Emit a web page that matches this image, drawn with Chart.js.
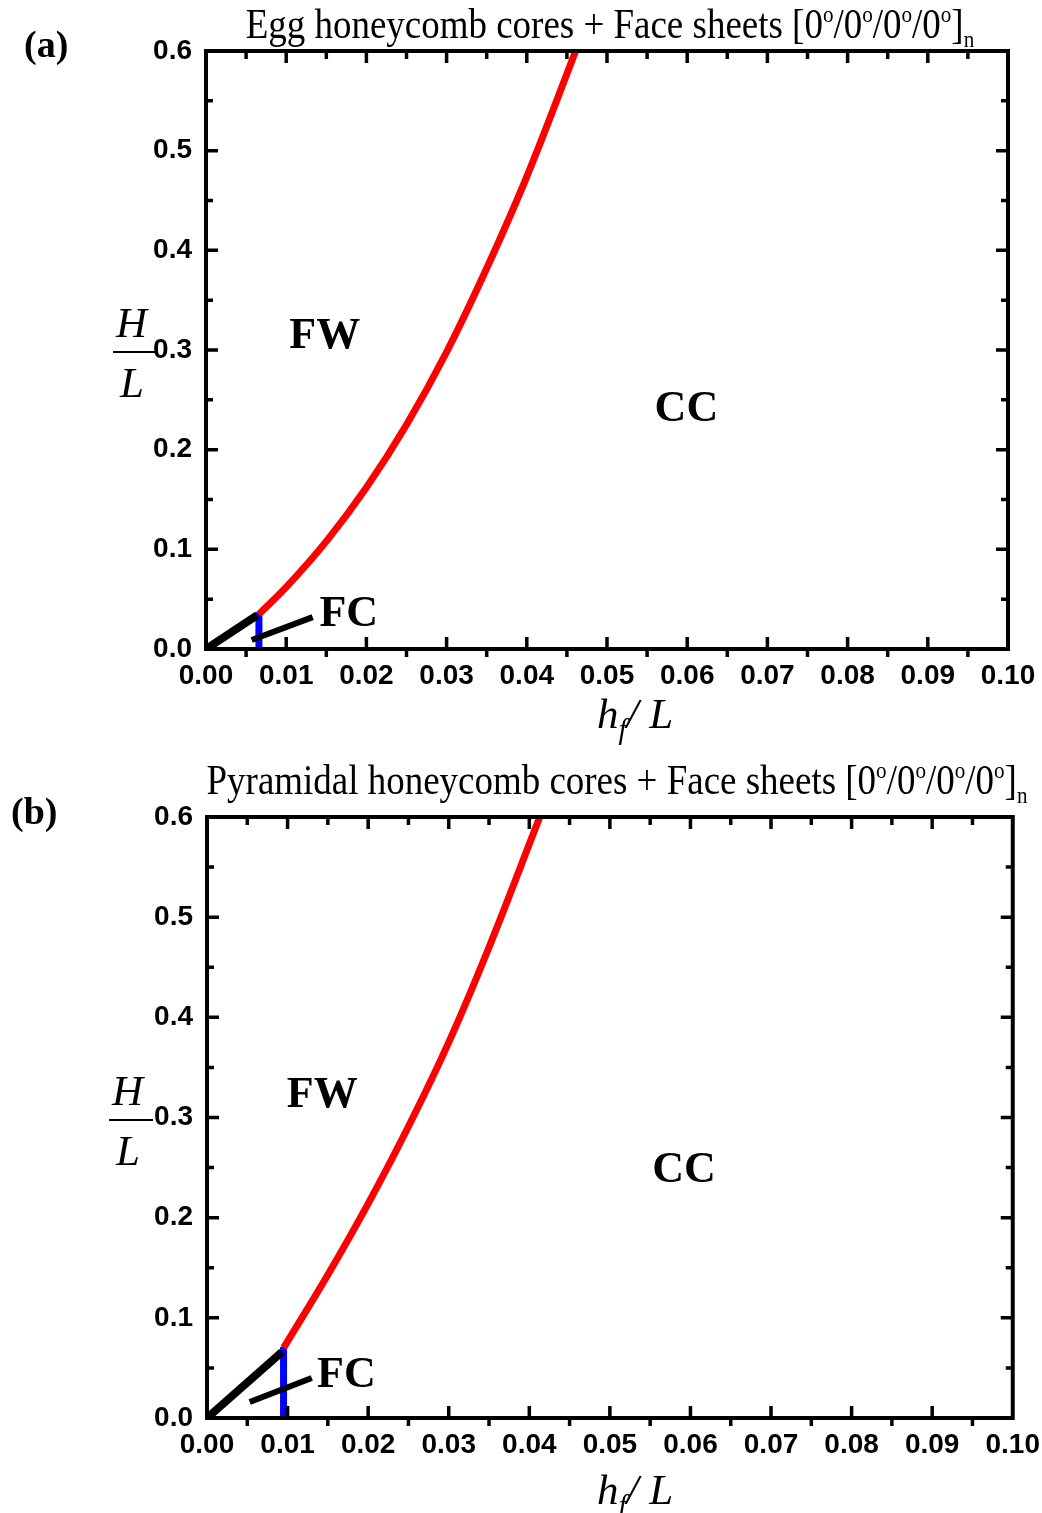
<!DOCTYPE html>
<html>
<head>
<meta charset="utf-8">
<script src="https://cdn.jsdelivr.net/npm/chart.js@4.4.1/dist/chart.umd.min.js"></script>
<style>
  html, body { margin: 0; padding: 0; background: #fff; }
  body { width: 1042px; height: 1513px; position: relative; overflow: hidden; }
  canvas { position: absolute; left: 0; }
  #cA { top: 0; }
  #cB { top: 740px; }
  .txt { position: absolute; font-family: "Liberation Serif", "Times New Roman", serif; color: #000; white-space: nowrap; }
  .panel { font-weight: bold; font-size: 38px; }
  .title { font-size: 42px; transform: translateX(-50%) scaleX(0.88); transform-origin: center; }
  .title sup { font-size: 24px; vertical-align: 0; position: relative; top: -16px; }
  .title sub { font-size: 24px; vertical-align: 0; position: relative; top: 9px; }
  .ital { font-style: italic; font-size: 43px; }
  .bar { position: absolute; height: 2px; background: #000; }
</style>
</head>
<body>
<canvas id="cA" width="1042" height="740"></canvas>
<canvas id="cB" width="1042" height="773"></canvas>

<div class="txt panel" style="left:24px; top:22px;">(a)</div>
<div class="txt title" style="left:610px; top:0px;">Egg honeycomb cores + Face sheets [0<sup>o</sup>/0<sup>o</sup>/0<sup>o</sup>/0<sup>o</sup>]<sub>n</sub></div>
<div class="txt ital" style="left:116px; top:298px;">H</div>
<div class="bar" style="left:113px; top:351px; width:44px;"></div>
<div class="txt ital" style="left:120px; top:358px;">L</div>
<div class="txt ital" style="left:597px; top:689px;">h<span style="font-size:29px; position:relative; top:11px;">f</span>/ L</div>

<div class="txt panel" style="left:11px; top:789px;">(b)</div>
<div class="txt title" style="left:617px; top:756px;">Pyramidal honeycomb cores + Face sheets [0<sup>o</sup>/0<sup>o</sup>/0<sup>o</sup>/0<sup>o</sup>]<sub>n</sub></div>
<div class="txt ital" style="left:112px; top:1066px;">H</div>
<div class="bar" style="left:109px; top:1119px; width:44px;"></div>
<div class="txt ital" style="left:116px; top:1126px;">L</div>
<div class="txt ital" style="left:597px; top:1465px;">h<span style="font-size:29px; position:relative; top:11px;">f</span>/ L</div>

<script>
// ── Data ───────────────────────────────────
const xTickLabels = ['0.00', '0.01', '0.02', '0.03', '0.04', '0.05', '0.06', '0.07', '0.08', '0.09', '0.10'];
const yTickLabels = ['0.0', '0.1', '0.2', '0.3', '0.4', '0.5', '0.6'];

// (a) Egg honeycomb
const redAX   = [0.0066, 0.010, 0.015, 0.020, 0.025, 0.030, 0.035, 0.040, 0.0461];
const redAY   = [0.035,  0.062, 0.108, 0.162, 0.225, 0.298, 0.382, 0.474, 0.600];
const blueAX  = [0.0066, 0.0066];
const blueAY  = [0.0,    0.037];
const blackAX = [0.0,    0.0064];
const blackAY = [0.0,    0.034];
const ptrAX   = [0.0057, 0.0133];
const ptrAY   = [0.009,  0.032];
const labelsA = [
  { text: 'FW', x: 0.0148, y: 0.313 },
  { text: 'CC', x: 0.0599, y: 0.240 },
  { text: 'FC', x: 0.0178, y: 0.034 }
];

// (b) Pyramidal honeycomb
const redBX   = [0.0095, 0.015, 0.020, 0.025, 0.030, 0.035, 0.0413];
const redBY   = [0.070,  0.143, 0.214, 0.291, 0.375, 0.470, 0.600];
const blueBX  = [0.0095, 0.0095];
const blueBY  = [0.0,    0.071];
const blackBX = [0.0,    0.0093];
const blackBY = [0.0,    0.066];
const ptrBX   = [0.0053, 0.0130];
const ptrBY   = [0.016,  0.040];
const labelsB = [
  { text: 'FW', x: 0.0143, y: 0.322 },
  { text: 'CC', x: 0.0592, y: 0.247 },
  { text: 'FC', x: 0.0173, y: 0.042 }
];

const pts = (xs, ys) => xs.map((x, i) => ({ x, y: ys[i] }));

// ── Frame, inward ticks and region labels ──
const framePlugin = {
  id: 'frame',
  afterDatasetsDraw(chart, args, opts) {
    const { ctx, chartArea: a, scales: { x, y } } = chart;
    ctx.save();
    ctx.strokeStyle = '#000';
    ctx.lineWidth = 4;
    ctx.strokeRect(a.left, a.top, a.right - a.left, a.bottom - a.top);

    ctx.lineWidth = 3.5;
    ctx.beginPath();
    for (let i = 1; i < 20; i++) {
      const px = x.getPixelForValue(i * 0.005);
      const major = i % 2 === 0;
      // top: all inward
      ctx.moveTo(px, a.top);
      ctx.lineTo(px, a.top + (major ? 12 : 8));
      // bottom: majors inward, minors outward
      ctx.moveTo(px, a.bottom);
      ctx.lineTo(px, major ? a.bottom - 12 : a.bottom + 8);
    }
    for (let i = 1; i < 12; i++) {
      const py = y.getPixelForValue(i * 0.05);
      const major = i % 2 === 0;
      ctx.moveTo(a.left, py);
      ctx.lineTo(a.left + (major ? 12 : 7), py);
      ctx.moveTo(a.right, py);
      ctx.lineTo(a.right - (major ? 12 : 7), py);
    }
    ctx.stroke();

    ctx.fillStyle = '#000';
    ctx.font = 'bold 44px "Liberation Serif", "Times New Roman", serif';
    ctx.textAlign = 'center';
    ctx.textBaseline = 'middle';
    opts.labels.forEach(l => {
      ctx.fillText(l.text, x.getPixelForValue(l.x), y.getPixelForValue(l.y));
    });
    ctx.restore();
  }
};

function lineSet(data, color, width) {
  return {
    data, borderColor: color, borderWidth: width,
    showLine: true, pointRadius: 0, fill: false,
    borderCapStyle: 'butt'
  };
}

function makeChart(id, sets, labels, pad) {
  const tickFont = { family: '"Liberation Sans", Arial, sans-serif', size: 28, weight: 'bold' };
  return new Chart(document.getElementById(id), {
    type: 'scatter',
    data: { datasets: sets },
    options: {
      responsive: false,
      animation: false,
      devicePixelRatio: 1,
      layout: { padding: pad },
      plugins: {
        legend: { display: false },
        tooltip: { enabled: false },
        frame: { labels }
      },
      scales: {
        x: {
          type: 'linear', min: 0, max: 0.1,
          afterBuildTicks: s => { s.ticks = xTickLabels.map(t => ({ value: parseFloat(t) })); },
          afterFit: s => { s.height = 40; },
          grid: { display: false },
          border: { display: false },
          ticks: {
            color: '#000', font: tickFont, padding: 2,
            maxRotation: 0, autoSkip: false,
            callback: (v, i) => xTickLabels[i]
          }
        },
        y: {
          type: 'linear', min: 0, max: 0.6,
          afterBuildTicks: s => { s.ticks = yTickLabels.map(t => ({ value: parseFloat(t) })); },
          afterFit: s => { s.width = 60; },
          grid: { display: false },
          border: { display: false },
          ticks: {
            color: '#000', font: tickFont, padding: 6,
            autoSkip: false,
            callback: (v, i) => yTickLabels[i]
          }
        }
      }
    },
    plugins: [framePlugin]
  });
}

const smooth = { tension: 0.4 };

makeChart('cA', [
  Object.assign(lineSet(pts(redAX, redAY), '#ff0000', 7), smooth),
  lineSet(pts(blackAX, blackAY), '#000000', 8),
  lineSet(pts(ptrAX, ptrAY), '#000000', 6),
  lineSet(pts(blueAX, blueAY), '#0000ff', 7)
], labelsA, { left: 146, right: 34, top: 51, bottom: 51 });

makeChart('cB', [
  Object.assign(lineSet(pts(redBX, redBY), '#ff0000', 7), smooth),
  lineSet(pts(blackBX, blackBY), '#000000', 8),
  lineSet(pts(ptrBX, ptrBY), '#000000', 6),
  lineSet(pts(blueBX, blueBY), '#0000ff', 7)
], labelsB, { left: 147, right: 29, top: 77, bottom: 55 });
</script>
</body>
</html>
